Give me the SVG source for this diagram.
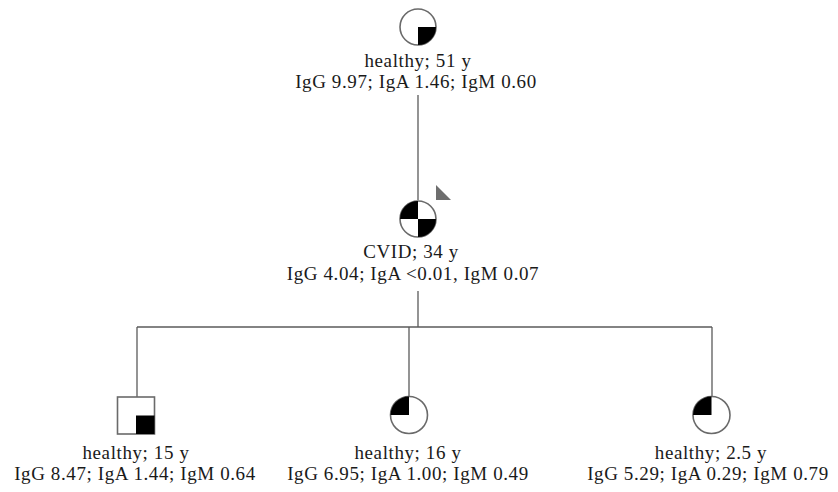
<svg xmlns="http://www.w3.org/2000/svg" width="838" height="492" viewBox="0 0 838 492">
<style>
.bg{fill:#ffffff}
.shape{fill:#ffffff;stroke:#6a6a6a;stroke-width:1.6}
.q{fill:#000000;stroke:none}
.conn line{stroke:#5a5a5a;stroke-width:1.3;fill:none}
text{font-family:"Liberation Serif","Times New Roman",serif;font-size:19px;fill:#1a1a1a;text-anchor:middle;letter-spacing:0.6px}
.arrow{fill:#6e6e6e;stroke:none}
</style>
<rect class="bg" x="0" y="0" width="838" height="492"/>
<g id="connectors" class="conn">
<line x1="418" y1="95" x2="418" y2="200"/>
<line x1="418" y1="291" x2="418" y2="327"/>
<line x1="137" y1="327" x2="712" y2="327"/>
<line x1="137" y1="327" x2="137" y2="397"/>
<line x1="409" y1="327" x2="409" y2="396"/>
<line x1="712" y1="327" x2="712" y2="396"/>
</g>
<g id="node-grandparent">
<circle class="shape" cx="418" cy="27" r="18"/>
<path class="q" d="M418,27 L436,27 A18,18 0 0 1 418,45 Z"/>
<text x="418" y="67">healthy; 51 y</text>
<text x="416" y="88">IgG 9.97; IgA 1.46; IgM 0.60</text>
</g>
<g id="node-proband">
<circle class="shape" cx="418" cy="219" r="18"/>
<path class="q" d="M418,219 L400,219 A18,18 0 0 1 418,201 Z"/>
<path class="q" d="M418,219 L436,219 A18,18 0 0 1 418,237 Z"/>
<polygon class="arrow" points="436,185 436,200 451,200"/>
<text x="411" y="258">CVID; 34 y</text>
<text x="413" y="280">IgG 4.04; IgA &lt;0.01, IgM 0.07</text>
</g>
<g id="node-child1">
<rect class="shape" x="117.5" y="397" width="37" height="37"/>
<rect class="q" x="136" y="415.5" width="18.5" height="18.5"/>
<text x="136" y="459">healthy; 15 y</text>
<text x="135" y="480">IgG 8.47; IgA 1.44; IgM 0.64</text>
</g>
<g id="node-child2">
<circle class="shape" cx="409" cy="415" r="18.5"/>
<path class="q" d="M409,415 L390.5,415 A18.5,18.5 0 0 1 409,396.5 Z"/>
<text x="408" y="459">healthy; 16 y</text>
<text x="408" y="480">IgG 6.95; IgA 1.00; IgM 0.49</text>
</g>
<g id="node-child3">
<circle class="shape" cx="711.5" cy="415" r="18.5"/>
<path class="q" d="M711.5,415 L693,415 A18.5,18.5 0 0 1 711.5,396.5 Z"/>
<text x="711" y="459">healthy; 2.5 y</text>
<text x="708" y="480">IgG 5.29; IgA 0.29; IgM 0.79</text>
</g>
</svg>
